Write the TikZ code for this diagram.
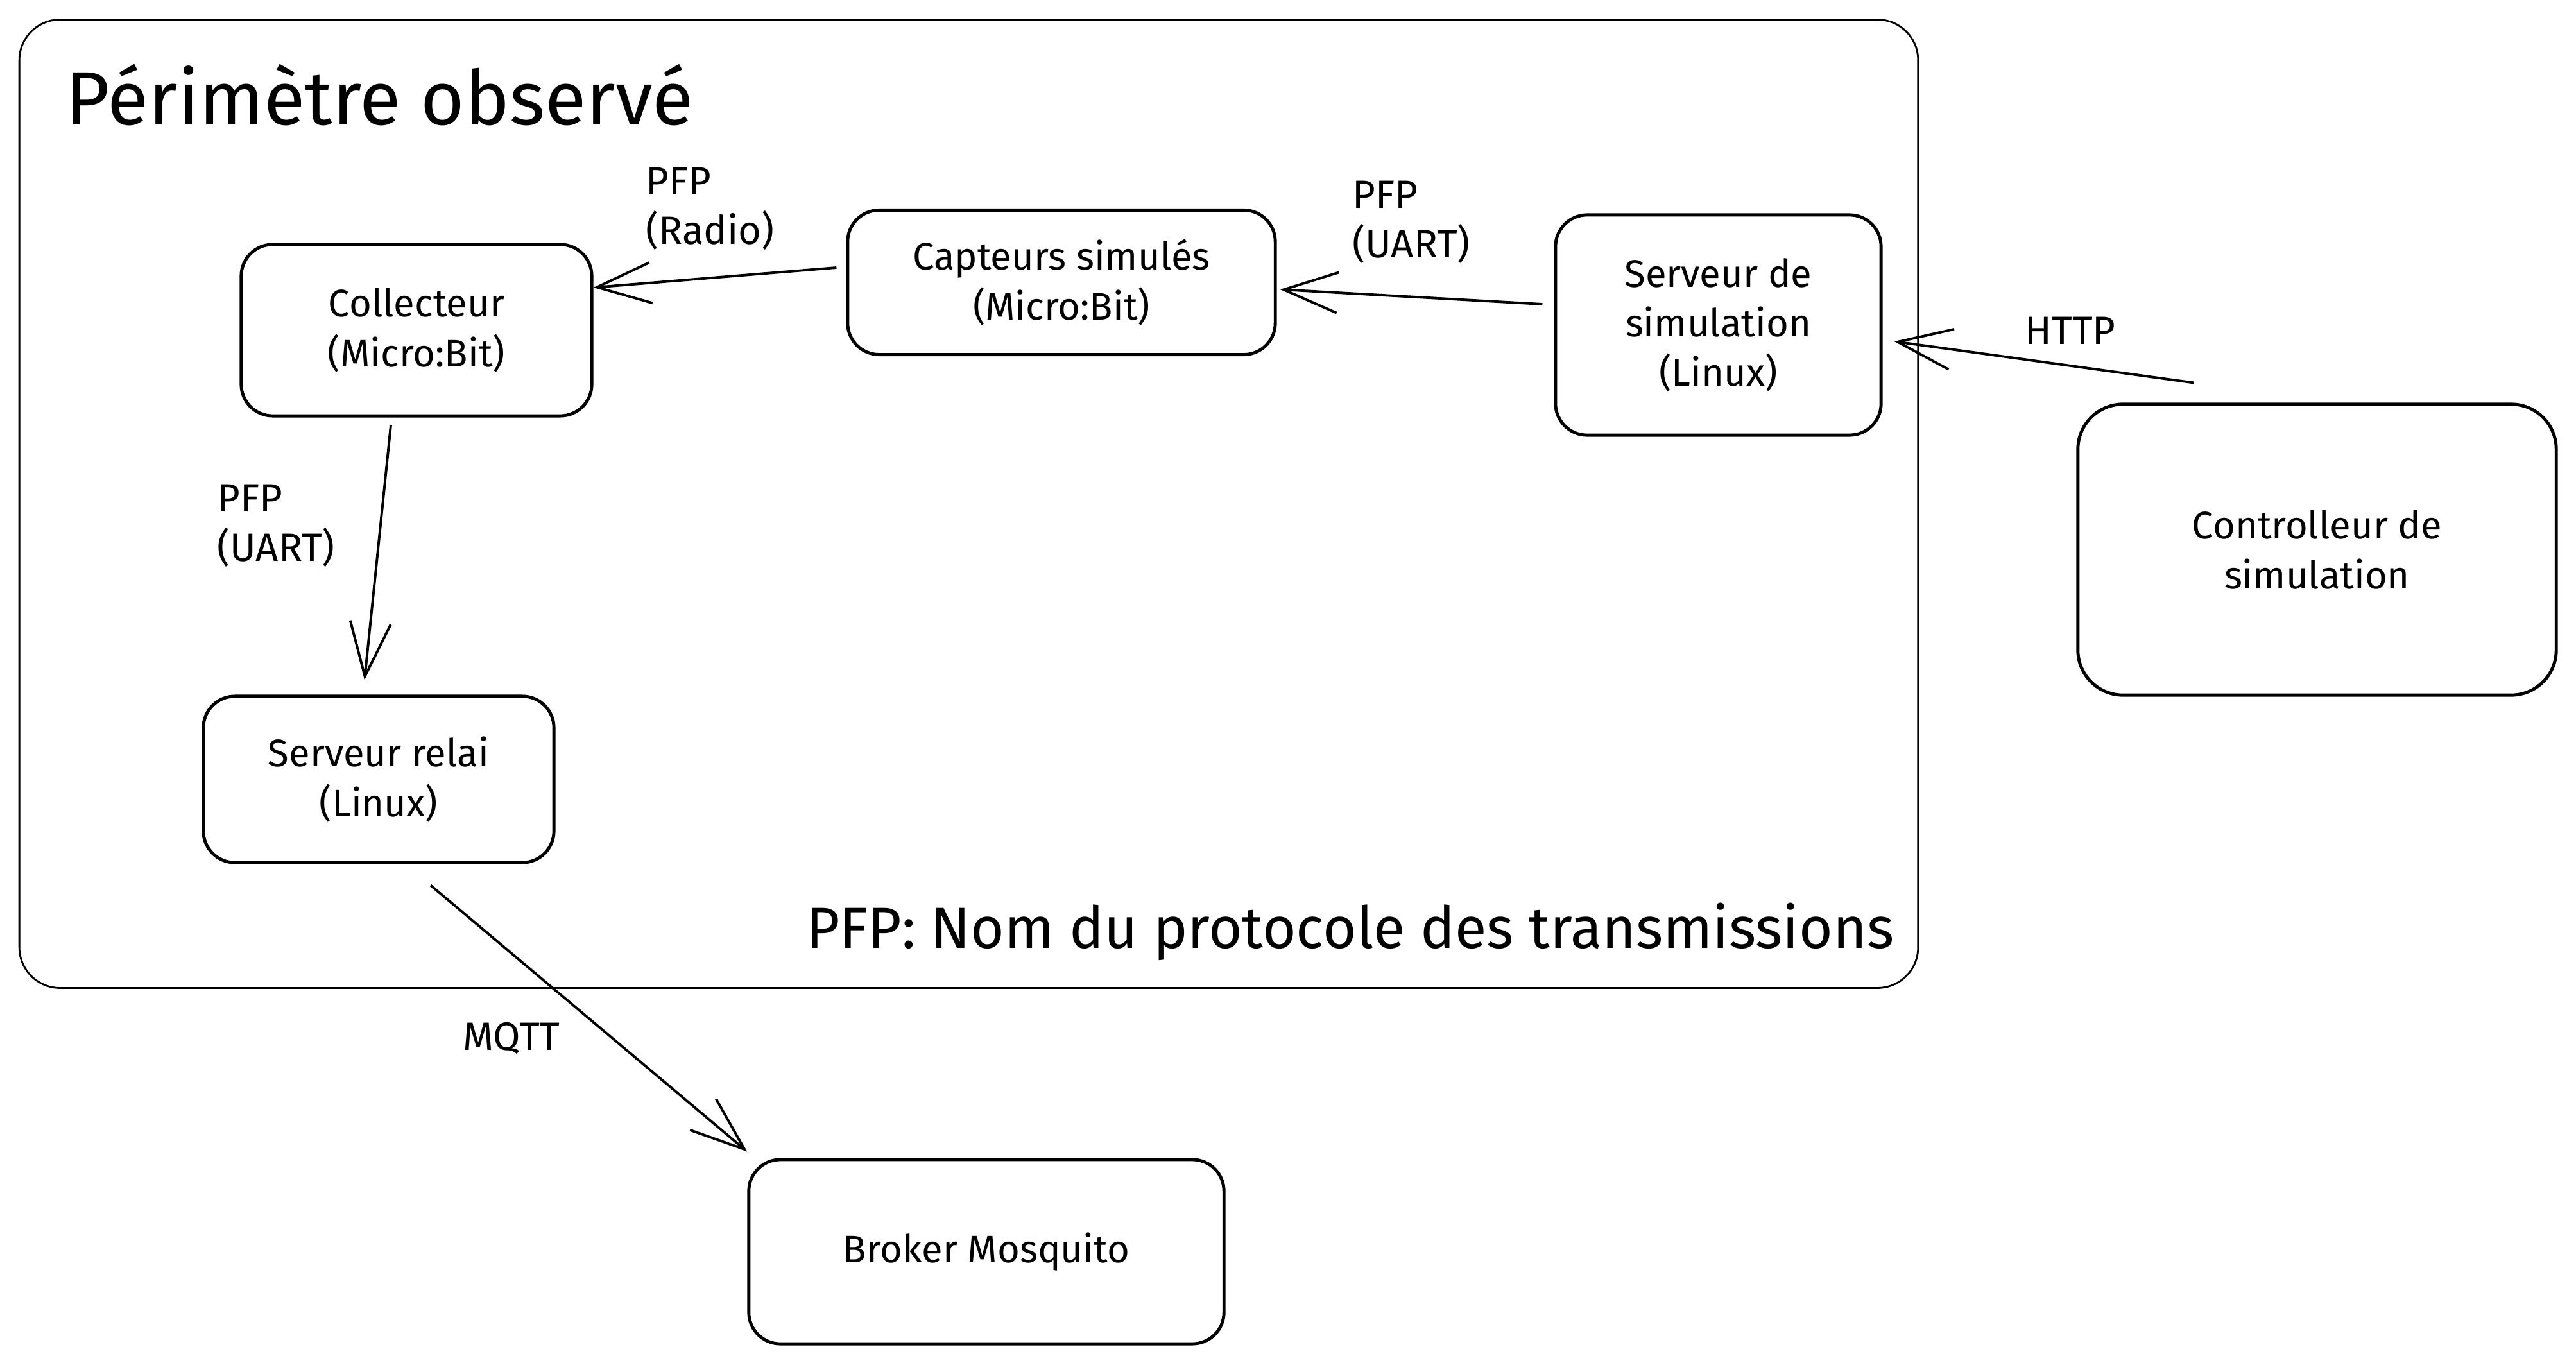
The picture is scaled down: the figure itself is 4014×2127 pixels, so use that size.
\documentclass[tikz,border=0pt]{standalone}
\usepackage{fontspec}
\setmainfont{Fira Sans}
\usetikzlibrary{arrows.meta}
\tikzset{
  x=0.01cm, y=-0.01cm,
  box/.style={draw, line width=1.4pt, rounded corners=14pt, align=center, inner sep=0pt,
              font=\fontsize{17}{22}\selectfont},
  lbl/.style={align=left, inner sep=0pt, font=\fontsize{17.5}{22}\selectfont},
  arr/.style={line width=1.1pt, -{Straight Barb[length=24pt,width=18pt,line width=1.1pt]}},
}
\begin{document}
\begin{tikzpicture}
\useasboundingbox (0,0) rectangle (4014,2127);
% perimeter
\node[draw, line width=0.8pt, rounded corners=18pt, minimum width=29.57cm, minimum height=15.08cm, inner sep=0pt] (perim) at (1509.5,785) {};
\node[anchor=west, inner sep=0pt, font=\fontsize{33.5}{40}\selectfont] (title) at (102,148) {Périmètre observé};
\node[anchor=east, inner sep=0pt, font=\fontsize{25.7}{30}\selectfont] (legend) at (2952,1452) {PFP: Nom du protocole des transmissions};
% boxes
\node[box, minimum width=5.46cm, minimum height=2.67cm] (coll) at (649,514.5) {Collecteur\\(Micro:Bit)};
\node[box, minimum width=6.66cm, minimum height=2.25cm] (cap) at (1654,440) {Capteurs simulés\\(Micro:Bit)};
\node[box, minimum width=5.07cm, minimum height=3.43cm] (sim) at (2677.5,506.5) {Serveur de\\simulation\\(Linux)};
\node[box, rounded corners=20pt, minimum width=7.45cm, minimum height=4.53cm] (ctrl) at (3610.5,856.5) {Controlleur de\\simulation};
\node[box, minimum width=5.46cm, minimum height=2.59cm] (relai) at (590,1214.5) {Serveur relai\\(Linux)};
\node[box, minimum width=7.40cm, minimum height=2.87cm] (broker) at (1537,1950.5) {Broker Mosquito};
% labels
\node[lbl, anchor=west] (lradio) at (1006,325) {PFP\\(Radio)};
\node[lbl, anchor=west] (luart1) at (2107,346) {PFP\\(UART)};
\node[lbl] (lhttp) at (3226,515) {HTTP};
\node[lbl, anchor=west] (luart2) at (338,819) {PFP\\(UART)};
\node[lbl] (lmqtt) at (797,1618) {MQTT};
% connectors
\draw[arr] ([shift={(-15,-23)}]cap.west) -- ([shift={(0,-66.5)}]coll.east);
\draw[arr] ([shift={(-18,-32.5)}]sim.west) -- ([shift={(5,11)}]cap.east);
\draw[arr] ([shift={(-192.5,-31)}]ctrl.north) -- ([shift={(18,25.5)}]sim.east);
\draw[arr] ([shift={(-40,12)}]coll.south) -- ([shift={(-22,-23)}]relai.north);
\draw[arr] ([shift={(81,33)}]relai.south) -- ([shift={(0,-10)}]broker.north west);
\end{tikzpicture}
\end{document}
